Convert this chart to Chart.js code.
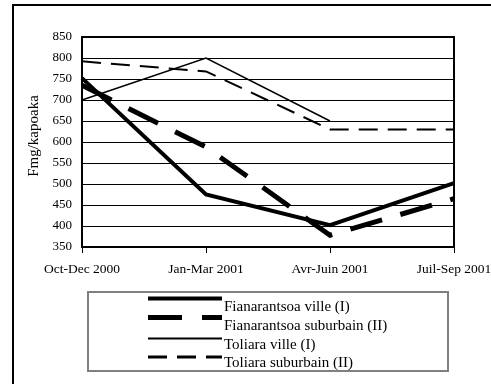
<!DOCTYPE html>
<html>
<head>
<meta charset="utf-8">
<script src="https://cdn.jsdelivr.net/npm/chart.js@4/dist/chart.umd.min.js"></script>
<style>
  html, body { margin: 0; padding: 0; background: #fff; }
  #wrap { width: 491px; height: 384px; position: relative; }
</style>
</head>
<body>
<div id="wrap"><canvas id="c" width="491" height="384"></canvas></div>
<script>
const categories = ["Oct-Dec 2000", "Jan-Mar 2001", "Avr-Juin 2001", "Juil-Sep 2001"];
const fianarantsoaVille = [752, 475, 402, 502];
const fianarantsoaSuburbain = [735, 588, 378, 465];
const toliaraVille = [700, 800, 650, null];
const toliaraSuburbain = [792, 768, 630, 630];
const seriesLabels = ["Fianarantsoa ville (I)", "Fianarantsoa suburbain (II)", "Toliara ville (I)", "Toliara suburbain (II)"];
const yTicks = { min: 350, max: 850, step: 50 };
const yTitle = "Fmg/kapoaka";

const FONT = "'Liberation Serif', 'Times New Roman', serif";
Chart.defaults.font.family = FONT;
Chart.defaults.font.size = 13;
Chart.defaults.color = '#000';

const framePlugin = {
  id: 'frame',
  beforeDraw(chart) {
    const ctx = chart.ctx;
    ctx.save();
    ctx.fillStyle = '#fff';
    ctx.fillRect(0, 0, chart.width, chart.height);
    ctx.strokeStyle = '#000';
    ctx.lineWidth = 2;
    ctx.beginPath();
    ctx.moveTo(13, chart.height + 5);
    ctx.lineTo(13, 5);
    ctx.lineTo(chart.width + 5, 5);
    ctx.stroke();
    // y axis title
    ctx.translate(34, 136);
    ctx.rotate(-Math.PI / 2);
    ctx.fillStyle = '#000';
    ctx.font = "15px " + FONT;
    ctx.textAlign = 'center';
    ctx.textBaseline = 'middle';
    ctx.fillText(yTitle, 0, 0);
    ctx.restore();
  },
  beforeDatasetsDraw(chart) {
    const a = chart.chartArea;
    const ctx = chart.ctx;
    ctx.save();
    ctx.strokeStyle = '#000';
    ctx.lineWidth = 2;
    ctx.strokeRect(a.left, a.top, a.right - a.left, a.bottom - a.top);
    ctx.restore();
  },
  afterDraw(chart) {
    const ctx = chart.ctx;
    ctx.save();
    // legend box
    ctx.strokeStyle = '#808080';
    ctx.lineWidth = 2;
    ctx.strokeRect(88, 292, 360, 79);
    const baselines = [311, 330, 349, 367];
    const lineYs = [298.5, 317.5, 338.5, 357];
    const widths = [4, 5, 2, 3];
    chart.data.datasets.forEach((ds, i) => {
      ctx.strokeStyle = ds.borderColor;
      ctx.lineWidth = widths[i];
      ctx.setLineDash(i === 1 ? [34, 20] : (ds.borderDash || []));
      ctx.beginPath();
      ctx.moveTo(148, lineYs[i]);
      ctx.lineTo(222, lineYs[i]);
      ctx.stroke();
      ctx.setLineDash([]);
      ctx.fillStyle = '#000';
      ctx.font = "15px " + FONT;
      ctx.textBaseline = 'alphabetic';
      ctx.textAlign = 'left';
      ctx.fillText(ds.label, 224, baselines[i]);
    });
    ctx.restore();
  }
};

new Chart(document.getElementById('c'), {
  type: 'line',
  data: {
    labels: categories,
    datasets: [
      { label: seriesLabels[0], data: fianarantsoaVille, borderColor: '#000', borderWidth: 4, pointRadius: 0, tension: 0, fill: false },
      { label: seriesLabels[1], data: fianarantsoaSuburbain, borderColor: '#000', borderWidth: 5, borderDash: [33, 19], pointRadius: 0, tension: 0, fill: false },
      { label: seriesLabels[2], data: toliaraVille, borderColor: '#000', borderWidth: 1.5, pointRadius: 0, tension: 0, fill: false },
      { label: seriesLabels[3], data: toliaraSuburbain, borderColor: '#000', borderWidth: 2, borderDash: [19, 10], pointRadius: 0, tension: 0, fill: false }
    ]
  },
  options: {
    responsive: false,
    animation: false,
    devicePixelRatio: 1,
    layout: { padding: { left: 21, top: 37, right: 37, bottom: 0 } },
    plugins: { legend: { display: false }, tooltip: { enabled: false } },
    scales: {
      x: {
        offset: false,
        grid: { display: true, drawOnChartArea: false, drawTicks: true, tickLength: 6, color: '#000', lineWidth: 1 },
        border: { display: false },
        ticks: { padding: 8, maxRotation: 0, autoSkip: false, font: { size: 13.5 } },
        afterFit(scale) { scale.height = 137; scale.paddingRight = 0; scale.paddingLeft = 0; }
      },
      y: {
        min: yTicks.min, max: yTicks.max,
        grid: { color: '#000', lineWidth: 1, drawTicks: false },
        border: { display: false },
        ticks: { stepSize: yTicks.step, padding: 10, font: { size: 13 } },
        title: { display: false },
        afterFit(scale) { scale.width = 61; }
      }
    }
  },
  plugins: [framePlugin]
});
</script>
</body>
</html>
